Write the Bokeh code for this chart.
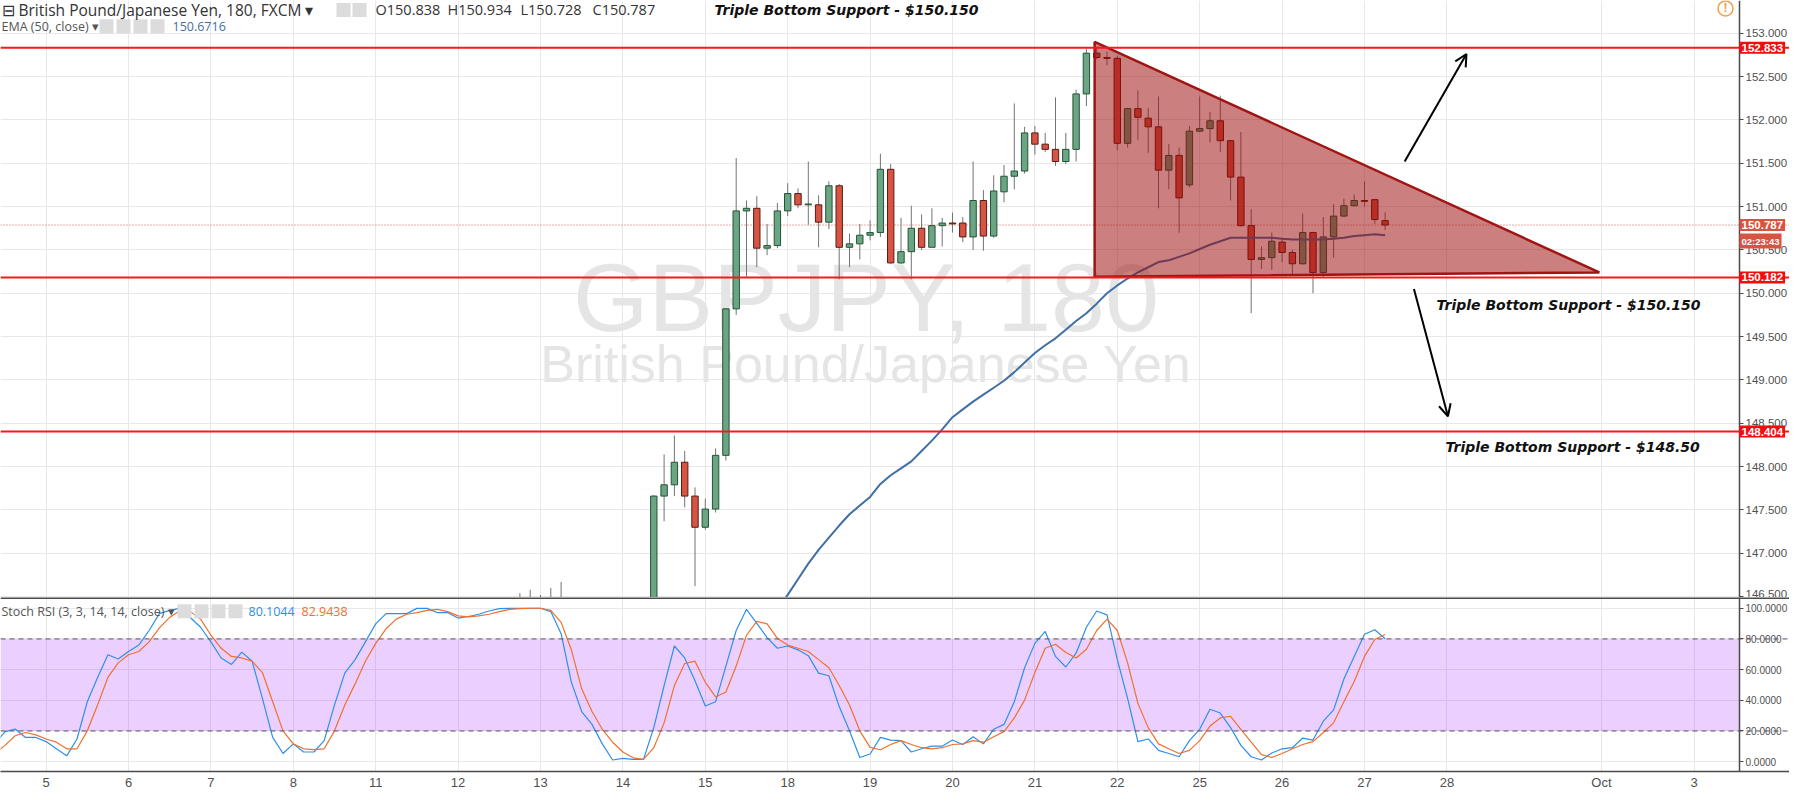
from bokeh.plotting import figure
from bokeh.layouts import column
from bokeh.models import (Range1d, FixedTicker, SingleIntervalTicker, Span, Label, BoxAnnotation,
                          Arrow, OpenHead, ColumnDataSource, NumeralTickFormatter)
from bokeh.embed import file_html
from bokeh.resources import INLINE

# ---------------- data (3-hour bars, bar index 0 = first bar of Sep 5) ----------------
day_labels = ["5", "6", "7", "8", "11", "12", "13", "14", "15", "18", "19", "20", "21", "22",
              "25", "26", "27", "28", "Oct", "3"]
day_bar = [0, 8, 16, 24, 32, 40, 48, 56, 64, 72, 80, 88, 96, 104, 112, 120, 128, 136, 151, 160]

bar_index = list(range(46, 131))
opens = [146.30, 146.41, 146.36, 146.44, 146.40, 146.31, 146.12, 146.05, 145.98, 145.88, 145.80, 145.85, 145.90,
         145.95, 147.66, 147.79, 148.05, 147.66, 147.30, 147.51, 148.13, 149.82, 150.95, 150.98, 150.52, 150.55,
         150.95, 151.15, 151.02, 151.02, 150.82, 151.24, 150.53, 150.57, 150.67, 150.70, 151.43, 150.35, 150.48,
         150.75, 150.53, 150.78, 150.81, 150.81, 150.65, 151.07, 150.66, 151.17, 151.35, 151.41, 151.85, 151.72,
         151.66, 151.52, 151.66, 152.30, 152.77, 152.72, 152.71, 151.73, 152.13, 152.02, 151.92, 151.42, 151.59,
         151.25, 151.87, 151.90, 151.99, 151.76, 151.34, 150.78, 150.39, 150.41, 150.59, 150.47, 150.34, 150.70,
         150.24, 150.65, 150.89, 151.01, 151.07, 151.08, 150.838]
highs = [146.54, 146.58, 146.52, 146.60, 146.67, 146.40, 146.25, 146.20, 146.10, 146.00, 145.95, 146.00, 146.05,
         147.67, 148.14, 148.36, 148.18, 147.76, 147.63, 148.21, 149.83, 151.56, 151.07, 151.12, 150.80, 151.04,
         151.27, 151.21, 151.52, 151.13, 151.29, 151.26, 150.69, 150.80, 150.84, 151.61, 151.49, 150.87, 151.01,
         150.91, 150.98, 150.87, 150.93, 150.88, 151.52, 151.19, 151.36, 151.48, 152.19, 151.92, 151.93, 151.85,
         152.26, 151.85, 152.35, 152.82, 152.84, 152.79, 152.74, 152.14, 152.34, 152.14, 152.27, 151.72, 151.68,
         151.93, 152.27, 152.09, 152.28, 151.77, 151.86, 150.97, 150.54, 150.70, 150.63, 150.50, 150.92, 150.71,
         150.88, 151.03, 151.09, 151.14, 151.29, 151.09, 150.934]
lows = [146.18, 146.30, 146.24, 146.33, 146.28, 146.05, 145.95, 145.90, 145.80, 145.72, 145.70, 145.75, 145.78,
        145.90, 147.37, 147.66, 147.53, 146.62, 147.27, 147.47, 148.07, 149.75, 150.19, 150.30, 150.44, 150.52,
        150.89, 150.98, 150.79, 150.53, 150.74, 150.16, 150.30, 150.39, 150.61, 150.65, 150.34, 150.34, 150.16,
        150.50, 150.53, 150.54, 150.70, 150.59, 150.50, 150.49, 150.64, 151.05, 151.20, 151.38, 151.60, 151.63,
        151.47, 151.49, 151.52, 152.16, 152.70, 152.63, 151.65, 151.68, 151.77, 151.62, 150.98, 151.20, 150.70,
        151.22, 151.86, 151.74, 151.63, 151.07, 150.77, 149.77, 150.28, 150.27, 150.36, 150.21, 150.33, 150.00,
        150.19, 150.41, 150.88, 151.00, 151.00, 150.80, 150.728]
closes = [146.41, 146.36, 146.44, 146.40, 146.31, 146.12, 146.05, 145.98, 145.88, 145.80, 145.85, 145.90, 145.95,
          147.66, 147.79, 148.05, 147.66, 147.30, 147.51, 148.13, 149.82, 150.95, 150.98, 150.52, 150.55, 150.95,
          151.15, 151.02, 151.03, 150.82, 151.24, 150.53, 150.57, 150.67, 150.70, 151.43, 150.35, 150.48, 150.75,
          150.53, 150.78, 150.81, 150.80, 150.65, 151.07, 150.66, 151.18, 151.35, 151.41, 151.85, 151.72, 151.66,
          151.52, 151.66, 152.30, 152.77, 152.72, 152.71, 151.73, 152.13, 152.03, 151.92, 151.42, 151.59, 151.10,
          151.87, 151.90, 151.99, 151.76, 151.34, 150.78, 150.39, 150.41, 150.60, 150.47, 150.34, 150.70, 150.24,
          150.65, 150.89, 151.01, 151.07, 151.06, 150.85, 150.787]

ema_index = list(range(71, 131))
ema_values = [146.35, 146.52, 146.70, 146.88, 147.04, 147.18, 147.32, 147.45, 147.55, 147.65,
              147.80, 147.90, 147.98, 148.06, 148.18, 148.30, 148.43, 148.57, 148.66, 148.75,
              148.83, 148.91, 148.99, 149.09, 149.20, 149.31, 149.40, 149.48, 149.58, 149.68,
              149.77, 149.88, 150.00, 150.09, 150.17, 150.24, 150.30, 150.36, 150.38, 150.42,
              150.46, 150.51, 150.56, 150.60, 150.64, 150.64, 150.64, 150.64, 150.64, 150.63,
              150.62, 150.62, 150.62, 150.62, 150.63, 150.64, 150.66, 150.67, 150.68, 150.67]

rsi_index = list(range(-5, 131))
stoch_k = [11.6, 19.4, 21.3, 15.8, 15.8, 13.1, 8.4, 3.8, 14.8, 39.1, 54.9, 69.7, 66.9, 71.8, 76.0, 85.5,
           96.5, 98.6, 99.9, 94.0, 87.6, 78.1, 67.6, 63.4, 71.4, 65.5, 41.2, 15.8, 5.3, 11.6, 6.3, 6.3,
           13.7, 37.0, 57.7, 66.5, 78.1, 89.8, 96.5, 96.5, 96.5, 99.9, 99.9, 97.1, 97.1, 93.6, 94.6, 96.1,
           98.2, 99.7, 99.9, 99.9, 100.0, 100.0, 97.8, 83.4, 51.7, 32.7, 24.3, 11.6, 1.1, 2.1, 1.5, 1.5,
           22.2, 49.6, 75.4, 67.6, 52.8, 36.3, 39.1, 62.3, 85.5, 99.3, 90.2, 80.9, 73.9, 75.4, 72.9, 69.1,
           57.7, 56.0, 35.9, 20.1, 2.7, 5.0, 15.8, 14.1, 13.7, 6.3, 8.4, 10.1, 10.1, 14.1, 11.2, 16.3,
           11.6, 21.1, 24.3, 39.1, 61.2, 77.1, 84.9, 68.6, 61.7, 70.7, 87.6, 98.2, 95.7, 66.5, 41.2, 13.1,
           14.8, 7.4, 5.3, 3.2, 13.7, 21.1, 34.2, 31.7, 22.2, 10.6, 3.2, 1.1, 5.7, 8.4, 9.1, 15.4,
           14.1, 26.4, 33.8, 53.9, 68.6, 83.0, 86.0, 80.1]
stoch_d = [4.9, 10.6, 16.9, 19.0, 17.5, 14.8, 12.7, 8.4, 8.4, 20.1, 37.0, 54.9, 64.4, 69.7, 71.8, 78.1,
           87.2, 94.0, 98.6, 97.8, 92.9, 82.4, 73.9, 68.6, 67.6, 65.5, 58.1, 39.1, 20.1, 11.6, 8.4, 7.8,
           8.4, 20.1, 37.0, 50.7, 65.5, 77.1, 86.6, 92.9, 96.1, 97.1, 98.6, 99.3, 97.8, 95.0, 94.4, 95.0,
           96.1, 97.8, 99.3, 99.7, 100.0, 100.0, 98.6, 90.8, 72.9, 47.5, 32.7, 21.1, 12.7, 6.3, 2.5, 1.5,
           9.1, 25.3, 49.6, 64.0, 65.5, 51.7, 42.2, 45.4, 62.3, 82.4, 91.4, 89.8, 80.3, 76.0, 73.9, 71.8,
           66.5, 61.2, 49.6, 37.0, 20.1, 9.3, 7.8, 11.2, 13.7, 11.2, 9.1, 8.4, 9.1, 11.2, 11.6, 13.7,
           12.7, 16.3, 19.6, 28.5, 40.1, 58.1, 73.9, 76.5, 71.2, 67.6, 73.3, 85.5, 92.9, 85.5, 64.4, 38.0,
           22.2, 11.6, 8.4, 5.3, 7.4, 13.7, 23.2, 28.5, 29.6, 21.1, 12.7, 4.6, 2.7, 5.3, 8.4, 11.2,
           13.1, 19.0, 25.3, 39.1, 52.2, 68.6, 79.6, 82.9]

level_lines = [152.833, 150.182, 148.404]
last_price = 150.787
countdown = "02:23:43"
ema_last = "150.6716"
k_last, d_last = "80.1044", "82.9438"

# user drawings (bar index, price)
tri_x = [101.8, 101.8, 150.8]
tri_y = [152.90, 150.19, 150.24]
arrow_up = (131.9, 151.52, 137.9, 152.76)
arrow_down = (132.8, 150.05, 136.1, 148.58)

# ---------------- layout / styles ----------------
BAR_PX, BAR0_PX = 10.3, 53.6     # reference bar spacing and position of bar 0


def mx(px):  # reference page pixel -> bar index
    return (px - BAR0_PX) / BAR_PX


X_START, X_END, X_FULL = mx(8), mx(1747), mx(1797)   # price scale sits at X_END
P_TOP_PX, P_BOT_PX = 8.0, 610.0
P_END = 153.0 - (P_TOP_PX - 41.0) / 87.4
P_START = 153.0 - (P_BOT_PX - 41.0) / 87.4
R_START, R_END = -6.4, 107.0
FW = 1789
MAIN_FH = 597
RSI_FH = 174

UP, DOWN = "#6ba583", "#d75442"
UP_EDGE, DOWN_EDGE = "#225437", "#5b1a13"
GRID = "#e8e8e8"
AXIS = "#4a4a4a"


def my(py):  # reference page pixel -> price
    return P_END - (py - P_TOP_PX) / (P_BOT_PX - P_TOP_PX) * (P_END - P_START)


def ry(py):  # reference page pixel -> stoch value
    return R_END - (py - 610.0) / 178.0 * (R_END - R_START)


x_range = Range1d(X_START, X_FULL)


def style_price_axis(ax, ticker, fmt, size):
    ax.ticker = ticker
    ax.formatter = NumeralTickFormatter(format=fmt)
    ax.fixed_location = X_END
    ax.major_tick_out = 4
    ax.major_tick_in = 0
    ax.minor_tick_line_color = None
    ax.axis_line_color = AXIS
    ax.axis_line_width = 1.5
    ax.major_tick_line_color = AXIS
    ax.major_label_text_font = "Liberation Sans"
    ax.major_label_text_font_size = size
    ax.major_label_text_color = "#4f4f4f"
    ax.major_label_standoff = 2


p = figure(frame_width=FW, frame_height=MAIN_FH, x_range=x_range, y_range=Range1d(P_START, P_END),
           x_axis_location=None, y_axis_location="right", output_backend="svg", toolbar_location=None,
           min_border_left=0, min_border_top=0, min_border_bottom=0, min_border_right=0,
           outline_line_color=None, background_fill_color="white")
p.xgrid[0].ticker = FixedTicker(ticks=day_bar)
p.xgrid.grid_line_color = GRID
p.ygrid.grid_line_color = GRID
style_price_axis(p.yaxis[0], SingleIntervalTicker(interval=0.5), "0.000", "11.5px")
# blank strip behind the price scale
p.add_layout(BoxAnnotation(left=X_END, fill_color="white", fill_alpha=1.0, line_color=None, level="underlay"))

# watermark (centred in the price pane)
xc = mx(1747 / 2)
p.add_layout(Label(x=xc, y=my(307), text="GBPJPY, 180", text_align="center", text_baseline="alphabetic",
                   text_font="Liberation Sans", text_font_size="97px", text_color="#e5e5e5", level="underlay"))
p.add_layout(Label(x=xc, y=my(375), text="British Pound/Japanese Yen", text_align="center",
                   text_baseline="alphabetic", text_font="Liberation Sans", text_font_size="52px",
                   text_color="#e5e5e5", level="underlay"))

# last price dotted line
p.add_layout(Span(location=last_price, dimension="width", line_color=DOWN, line_width=1,
                  line_dash="1 2", level="underlay"))

# candles
tops = [max(o, c) for o, c in zip(opens, closes)]
bots = [min(o, c) for o, c in zip(opens, closes)]
fills = [UP if c >= o else DOWN for o, c in zip(opens, closes)]
edges = [UP_EDGE if c >= o else DOWN_EDGE for o, c in zip(opens, closes)]
src = ColumnDataSource(dict(x=bar_index, h=highs, l=lows, top=tops, bot=bots, fill=fills, edge=edges))
p.segment(x0="x", y0="l", x1="x", y1="h", source=src, line_color="#737375", line_width=1)
p.vbar(x="x", width=0.62, top="top", bottom="bot", source=src, fill_color="fill", line_color="edge",
       line_width=1)

# EMA 50
p.line(ema_index, ema_values, line_color="#3f6fa5", line_width=2)

# triangle drawing
p.patch(tri_x, tri_y, fill_color="#9b0a0a", fill_alpha=0.52, line_color="#a11414", line_width=2.5)

# horizontal levels
for lv in level_lines:
    p.add_layout(Span(location=lv, dimension="width", line_color="#f51a1a", line_width=2))

# arrows
for (x0, y0, x1, y1) in (arrow_up, arrow_down):
    p.add_layout(Arrow(end=OpenHead(size=12, line_color="black", line_width=2), x_start=x0, y_start=y0,
                       x_end=x1, y_end=y1, line_color="black", line_width=2))

# annotation texts
ann_style = dict(text_font="DejaVu Sans", text_font_size="14px", text_font_style="bold italic",
                 text_color="#111111", text_baseline="middle", text_align="left")
p.add_layout(Label(x=mx(722), y=my(17.5), text="Triple Bottom Support - $150.150", **ann_style))
p.add_layout(Label(x=mx(1444), y=my(315), text="Triple Bottom Support - $150.150", **ann_style))
p.add_layout(Label(x=mx(1453), y=my(458), text="Triple Bottom Support - $148.50", **ann_style))

# header
hdr = dict(text_font="Open Sans", text_baseline="middle", text_align="left")
p.add_layout(Label(x=mx(9), y=my(17.5), text="\u229f British Pound/Japanese Yen, 180, FXCM \u25be",
                   text_font_size="15.5px", text_color="#333333", **hdr))
p.rect(x=[mx(351), mx(367)], y=[my(17.5), my(17.5)], width=14, height=14, width_units="screen",
       height_units="screen", fill_color="#dcdcdc", line_color=None)
for px, t in zip([383, 455, 528, 600], ["O150.838", "H150.934", "L150.728", "C150.787"]):
    p.add_layout(Label(x=mx(px), y=my(17.5), text=t, text_font_size="14.5px", text_color="#333333", **hdr))
p.add_layout(Label(x=mx(9), y=my(34), text="EMA (50, close) \u25be", text_font_size="12.5px",
                   text_color="#555555", **hdr))
p.rect(x=[mx(114), mx(131), mx(148), mx(165)], y=[my(34)] * 4, width=14, height=14, width_units="screen",
       height_units="screen", fill_color="#dcdcdc", line_color=None)
p.add_layout(Label(x=mx(180), y=my(34), text=ema_last, text_font_size="12.5px", text_color="#3f6fa5", **hdr))

# alert icon
p.scatter(x=[mx(1733)], y=[my(16)], marker="circle", size=15, fill_color=None, line_color="#f0a050",
          line_width=1.5)
p.add_layout(Label(x=mx(1733), y=my(16), text="!", text_font="Liberation Sans", text_font_size="12px",
                   text_font_style="bold", text_color="#f0a050", text_align="center", text_baseline="middle"))

# price tags on the scale
tag = dict(text_font="Liberation Sans", text_font_style="bold", text_color="white",
           text_align="left", text_baseline="middle", x_offset=0, padding=2)
for lv in level_lines:
    p.add_layout(Label(x=X_END, y=lv, text=f"{lv:.3f}", text_font_size="11.5px",
                       background_fill_color="#f20c0c", **tag))
p.add_layout(Label(x=X_END, y=last_price, text=f"{last_price:.3f}", text_font_size="11.5px",
                   background_fill_color=DOWN, **tag))
p.add_layout(Label(x=X_END, y=last_price, y_offset=-16, text=countdown, text_font_size="9.5px",
                   background_fill_color=DOWN, **tag))

# ---------------- Stoch RSI pane ----------------
r = figure(frame_width=FW, frame_height=RSI_FH, x_range=x_range, y_range=Range1d(R_START, R_END),
           x_axis_location="below", y_axis_location="right", output_backend="svg", toolbar_location=None,
           min_border_left=0, min_border_top=0, min_border_bottom=0, min_border_right=0,
           outline_line_color=None, background_fill_color="white")
r.xgrid[0].ticker = FixedTicker(ticks=day_bar)
r.xgrid.grid_line_color = GRID
r.ygrid.grid_line_color = GRID
style_price_axis(r.yaxis[0], FixedTicker(ticks=[0, 20, 40, 60, 80, 100]), "0.0000", "10px")
r.add_layout(BoxAnnotation(left=X_END, fill_color="white", fill_alpha=1.0, line_color=None, level="underlay"))

xa = r.xaxis[0]
xa.ticker = FixedTicker(ticks=day_bar)
xa.major_label_overrides = {b: t for b, t in zip(day_bar, day_labels)}
xa.major_tick_line_color = None
xa.major_tick_out = 0
xa.major_tick_in = 0
xa.minor_tick_line_color = None
xa.axis_line_color = AXIS
xa.axis_line_width = 1.5
xa.major_label_text_font = "Liberation Sans"
xa.major_label_text_font_size = "13px"
xa.major_label_text_color = "#4f4f4f"
xa.major_label_standoff = 3

r.add_layout(BoxAnnotation(bottom=20, top=80, right=X_END, fill_color="#9915ff", fill_alpha=0.2,
                           line_color=None, level="underlay"))
for lv in (20, 80):
    r.add_layout(Span(location=lv, dimension="width", line_color="#5a5266", line_width=1, line_dash="5 4"))
r.add_layout(Span(location=R_END, dimension="width", line_color=AXIS, line_width=3))

r.line(rsi_index, stoch_k, line_color="#2f8fe8", line_width=1.2)
r.line(rsi_index, stoch_d, line_color="#f0702f", line_width=1.2)

r.add_layout(Label(x=mx(9), y=ry(624), text="Stoch RSI (3, 3, 14, 14, close) \u25be", text_font_size="12.5px",
                   text_color="#555555", **hdr))
r.rect(x=[mx(192), mx(209), mx(226), mx(243)], y=[ry(624)] * 4, width=14, height=14, width_units="screen",
       height_units="screen", fill_color="#dcdcdc", line_color=None)
r.add_layout(Label(x=mx(256), y=ry(624), text=k_last, text_font_size="12.5px", text_color="#2f8fe8", **hdr))
r.add_layout(Label(x=mx(309), y=ry(624), text=d_last, text_font_size="12.5px", text_color="#f0702f", **hdr))

layout = column(p, r)
open("out.html", "w").write(file_html(layout, INLINE))
